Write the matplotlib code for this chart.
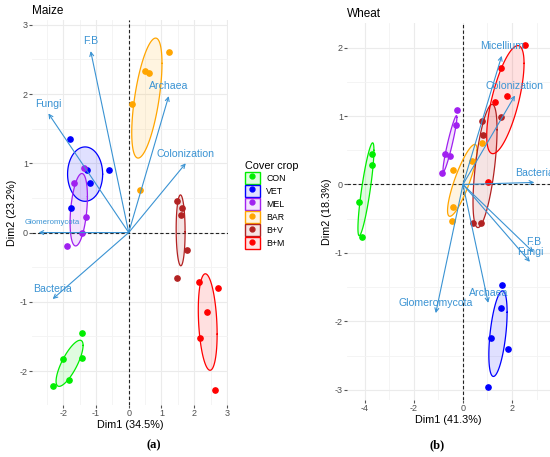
import numpy as np
import matplotlib
matplotlib.use("Agg")
import matplotlib.pyplot as plt
from matplotlib.patches import Patch
from matplotlib.lines import Line2D
from matplotlib.legend_handler import HandlerTuple
from matplotlib.ticker import MultipleLocator

plt.rcParams["font.family"] = ["Liberation Sans", "DejaVu Sans"]
plt.rcParams["axes.unicode_minus"] = False

# groups (cover crops)
groups = ["CON", "VET", "MEL", "BAR", "B+V", "B+M"]
colors = ["#00EE00", "#0000FF", "#A020F0", "#FFA500", "#B22222", "#FF0000"]

# Maize individuals (Dim1, Dim2) per group
maize_x = {
    "CON": [-1.44, -1.99, -1.44, -1.83, -2.32],
    "VET": [-1.80, -1.28, -1.19, -0.61, -1.77],
    "MEL": [-1.35, -1.68, -1.31, -1.41, -1.87],
    "BAR": [1.22, 0.51, 0.61, 0.09, 0.34],
    "B+V": [1.47, 1.62, 1.59, 1.77, 1.47],
    "B+M": [2.14, 2.72, 2.39, 2.17, 2.63],
}
maize_y = {
    "CON": [-1.45, -1.83, -1.81, -2.13, -2.22],
    "VET": [1.35, 0.90, 0.71, 0.90, 0.36],
    "MEL": [0.93, 0.71, 0.22, -0.01, -0.20],
    "BAR": [2.61, 2.33, 2.30, 1.86, 0.61],
    "B+V": [0.45, 0.36, 0.25, -0.25, -0.65],
    "B+M": [-0.72, -0.80, -1.14, -1.52, -2.28],
}
maize_vars = ["F.B", "Fungi", "Archaea", "Colonization", "Glomeromycota", "Bacteria"]
maize_vx = [-1.16, -2.45, 1.22, 1.74, -2.75, -2.32]
maize_vy = [2.62, 1.72, 1.97, 1.00, 0.00, -0.96]

# Wheat individuals
wheat_x = {
    "CON": [-3.73, -3.73, -4.24, -4.13],
    "VET": [1.58, 1.55, 1.13, 1.85, 1.03],
    "MEL": [-0.26, -0.29, -0.73, -0.53, -0.84],
    "BAR": [-0.39, 0.35, 0.76, -0.39, -0.46],
    "B+V": [0.76, 1.55, 0.83, 0.40, 0.73],
    "B+M": [2.53, 1.54, 1.81, 1.30, 1.01],
}
wheat_y = {
    "CON": [0.45, 0.29, -0.25, -0.77],
    "VET": [-1.47, -1.81, -2.25, -2.41, -2.96],
    "MEL": [1.09, 0.87, 0.45, 0.41, 0.17],
    "BAR": [0.21, 0.35, 0.61, -0.33, -0.54],
    "B+V": [0.93, 0.98, 0.72, -0.56, -0.56],
    "B+M": [2.04, 1.70, 1.30, 1.20, 0.04],
}
# ellipses read off the picture where the points alone don't reproduce them
# (centre x, centre y, sxx, sxy, syy)
wheat_ell = {
    "B+V": (0.90, 0.27, 0.24, 0.26, 0.81),
    "B+M": (1.73, 1.24, 0.58, 0.403, 0.624),
}
wheat_vars = ["Micellium", "Colonization", "Bacteria", "F.B", "Fungi", "Archaea", "Glomeromycota"]
wheat_vx = [1.58, 2.12, 2.91, 2.87, 2.73, 1.03, -1.11]
wheat_vy = [1.88, 1.30, 0.03, -0.99, -1.13, -1.73, -1.88]

arrow_col = "#3A93D3"
chi2_95 = -2 * np.log(0.05)  # chi-square quantile, df = 2
t = np.linspace(0, 2 * np.pi, 120)
circ = np.vstack([np.cos(t), np.sin(t)])


def conf_ellipse(x, y):
    pts = np.column_stack([x, y])
    m = pts.mean(axis=0)
    cov = np.cov(pts.T) / len(x) * chi2_95
    L = np.linalg.cholesky(cov)
    e = L @ circ
    return m[0] + e[0], m[1] + e[1]


def given_ellipse(cx, cy, sxx, sxy, syy):
    L = np.linalg.cholesky(np.array([[sxx, sxy], [sxy, syy]]))
    e = L @ circ
    return cx + e[0], cy + e[1]


def panel(ax, xs, ys, vnames, vx, vy, title, xlab, ylab, ells={}, small=(), shift={}):
    for g, c in zip(groups, colors):
        if g in ells:
            ex, ey = given_ellipse(*ells[g])
        else:
            ex, ey = conf_ellipse(xs[g], ys[g])
        ax.fill(ex, ey, color=c, alpha=0.12, lw=0, zorder=2)
        ax.plot(ex, ey, color=c, lw=0.9, zorder=3)
        ax.plot(xs[g], ys[g], "o", color=c, ms=3.8, zorder=4)
    ax.axhline(0, color="#222222", ls=(0, (3, 2)), lw=0.8, zorder=1)
    ax.axvline(0, color="#222222", ls=(0, (3, 2)), lw=0.8, zorder=1)
    for name, x, y in zip(vnames, vx, vy):
        ax.annotate("", xy=(x, y), xytext=(0, 0),
                    arrowprops=dict(arrowstyle="->", color=arrow_col, lw=0.8,
                                    shrinkA=0, shrinkB=0, mutation_scale=7),
                    zorder=5)
        ax.annotate(name, xy=(x, y), xytext=shift.get(name, (0, 7)),
                    textcoords="offset points", ha="center", va="center",
                    color=arrow_col, fontsize=5.6 if name in small else 7.6,
                    zorder=6)
    ax.set_title(title, loc="left", fontsize=8.5, pad=4)
    ax.set_xlabel(xlab, fontsize=7.8, labelpad=1)
    ax.set_ylabel(ylab, fontsize=7.8, labelpad=2)
    for s in ax.spines.values():
        s.set_visible(False)
    ax.grid(True, which="major", color="#EBEBEB", lw=0.8)
    ax.grid(True, which="minor", color="#F3F3F3", lw=0.6)
    ax.tick_params(which="major", length=2, color="#555555", labelsize=6.5,
                   labelcolor="#4D4D4D", pad=1)
    ax.tick_params(which="minor", length=0)
    ax.set_axisbelow(True)


fig = plt.figure(figsize=(5.5, 4.57), dpi=100)

ax1 = fig.add_axes([0.0582, 0.1138, 0.3564, 0.8425])
panel(ax1, maize_x, maize_y, maize_vars, maize_vx, maize_vy,
      "Maize", "Dim1 (34.5%)", "Dim2 (23.2%)",
      small=("Glomeromycota",), shift={"Glomeromycota": (10, 7)})
ax1.set_xlim(-2.95, 3.03)
ax1.set_ylim(-2.49, 3.07)
ax1.xaxis.set_major_locator(MultipleLocator(1))
ax1.xaxis.set_minor_locator(MultipleLocator(0.5))
ax1.yaxis.set_major_locator(MultipleLocator(1))
ax1.yaxis.set_minor_locator(MultipleLocator(0.5))

ax2 = fig.add_axes([0.6309, 0.1247, 0.3691, 0.825])
panel(ax2, wheat_x, wheat_y, wheat_vars, wheat_vx, wheat_vy,
      "Wheat", "Dim1 (41.3%)", "Dim2 (18.3%)", ells=wheat_ell)
ax2.set_xlim(-4.73, 3.55)
ax2.set_ylim(-3.15, 2.36)
ax2.xaxis.set_major_locator(MultipleLocator(2))
ax2.xaxis.set_minor_locator(MultipleLocator(1))
ax2.yaxis.set_major_locator(MultipleLocator(1))
ax2.yaxis.set_minor_locator(MultipleLocator(0.5))

# legend: square key with light fill, coloured border and a dot
handles = [(Patch(facecolor=c, alpha=0.12, edgecolor="none"),
            Patch(facecolor="none", edgecolor=c, lw=1.0),
            Line2D([], [], marker="o", color=c, ls="", ms=3.5)) for c in colors]
leg = fig.legend(handles, groups, title="Cover crop", loc="upper left",
                 bbox_to_anchor=(0.437, 0.658), frameon=False, fontsize=6.3,
                 title_fontsize=7.8,
                 handler_map={tuple: HandlerTuple(ndivide=1, pad=0)},
                 handlelength=1.75, handleheight=1.65, labelspacing=0.17,
                 handletextpad=0.7, borderpad=0)
leg._legend_box.align = "left"

fig.text(0.279, 0.02, "(a)", fontsize=9, fontweight="bold",
         family="Liberation Serif", ha="center")
fig.text(0.795, 0.02, "(b)", fontsize=9, fontweight="bold",
         family="Liberation Serif", ha="center")

fig.savefig("out.png", dpi=100)
